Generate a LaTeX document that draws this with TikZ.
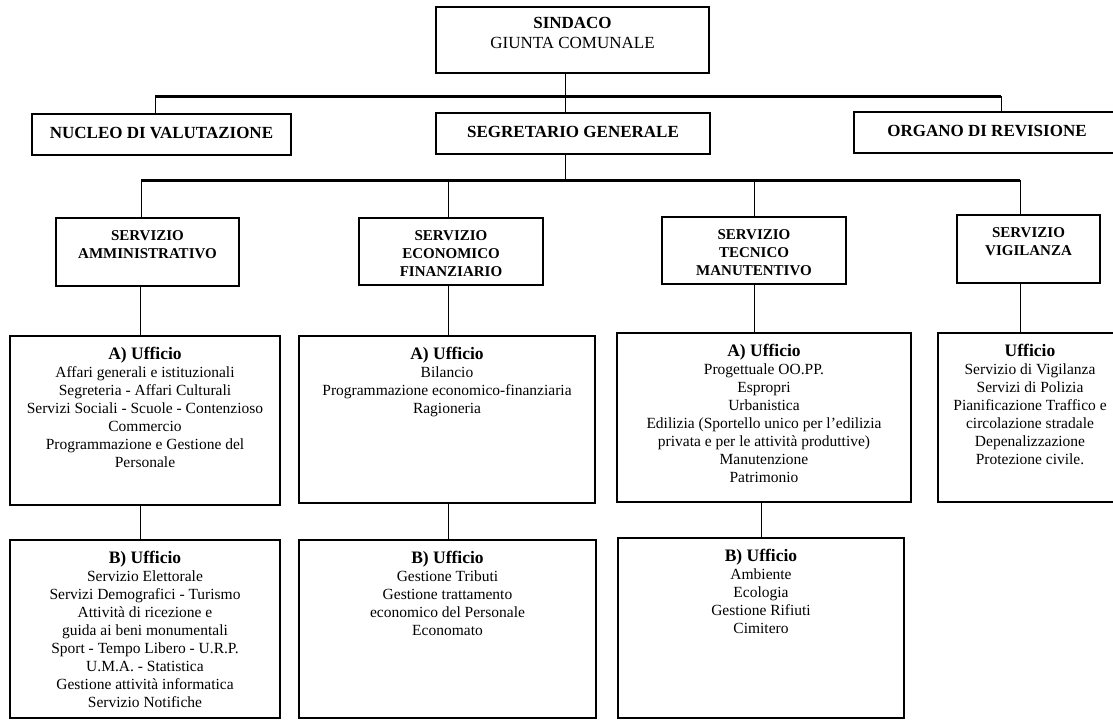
\documentclass[tikz,border=0pt]{standalone}
\usepackage{fontspec}
\setmainfont{Liberation Serif}
\begin{document}
\begin{tikzpicture}[x=1pt,y=-1pt,
  box/.style={draw=black, line width=2pt, inner sep=0pt, outer sep=0pt, fill=none},
  bus/.style={line width=3pt},
  conn/.style={line width=1pt},
  toptxt/.style={inner sep=0pt, align=center, font=\fontsize{17}{20}\selectfont\bfseries},
  srvtxt/.style={anchor=north, inner sep=0pt, align=center, font=\fontsize{15}{18}\selectfont\bfseries},
  uftxt/.style={anchor=north, inner sep=0pt, align=center, font=\fontsize{15.5}{18}\selectfont},
  uftitle/.style={font=\fontsize{17.5}{18}\selectfont\bfseries}
]
\useasboundingbox[fill=white] (0,0) rectangle (1113,720);

% top level boxes
\node[box, minimum width=273pt, minimum height=66pt] (sind) at (572.5,40) {};
\node[toptxt, anchor=north] (sindt) at ([yshift=-10pt]sind.north) {SINDACO\\{\mdseries GIUNTA COMUNALE}};

\node[box, minimum width=259pt, minimum height=41pt] (nuc) at (161.5,134.5) {};
\node[toptxt] (nuct) at ([yshift=1.5pt]nuc.center) {NUCLEO DI VALUTAZIONE};

\node[box, minimum width=274pt, minimum height=41pt] (seg) at (573,133.5) {};
\node[toptxt] (segt) at ([yshift=1.5pt]seg.center) {SEGRETARIO GENERALE};

\node[box, minimum width=266pt, minimum height=41pt] (org) at (987,132.5) {};
\node[toptxt] (orgt) at ([yshift=1.5pt]org.center) {ORGANO DI REVISIONE};

% services
\node[box, minimum width=183pt, minimum height=68pt] (amm) at (147.5,252) {};
\node[srvtxt] (ammt) at ([yshift=-12pt]amm.north) {SERVIZIO\\AMMINISTRATIVO};

\node[box, minimum width=184pt, minimum height=67pt] (eco) at (451,251.5) {};
\node[srvtxt] (ecot) at ([yshift=-12pt]eco.north) {SERVIZIO\\ECONOMICO\\FINANZIARIO};

\node[box, minimum width=184pt, minimum height=67pt] (tec) at (754,250.5) {};
\node[srvtxt] (tect) at ([yshift=-12pt]tec.north) {SERVIZIO\\TECNICO\\MANUTENTIVO};

\node[box, minimum width=143pt, minimum height=68pt] (vig) at (1028.5,249) {};
\node[srvtxt] (vigt) at ([yshift=-12pt]vig.north) {SERVIZIO\\VIGILANZA};

% A offices
\node[box, minimum width=270pt, minimum height=169pt] (aa) at (145,420.5) {};
\node[uftxt] (aat) at ([yshift=-11pt]aa.north) {{\fontsize{17.5}{18}\selectfont\bfseries A) Ufficio}\\Affari generali e istituzionali\\Segreteria - Affari Culturali\\Servizi Sociali - Scuole - Contenzioso\\Commercio\\Programmazione e Gestione del\\Personale};

\node[box, minimum width=296pt, minimum height=167pt] (ea) at (447,419.5) {};
\node[uftxt] (eat) at ([yshift=-11pt]ea.north) {{\fontsize{17.5}{18}\selectfont\bfseries A) Ufficio}\\Bilancio\\Programmazione economico-finanziaria\\Ragioneria};

\node[box, minimum width=294pt, minimum height=169pt] (ta) at (764,417.5) {};
\node[uftxt] (tat) at ([yshift=-11pt]ta.north) {{\fontsize{17.5}{18}\selectfont\bfseries A) Ufficio}\\Progettuale OO.PP.\\Espropri\\Urbanistica\\Edilizia (Sportello unico per l’edilizia\\privata e per le attività produttive)\\Manutenzione\\Patrimonio};

\node[box, minimum width=184pt, minimum height=169pt] (va) at (1030,417.5) {};
\node[uftxt] (vat) at ([yshift=-11pt]va.north) {{\fontsize{17.5}{18}\selectfont\bfseries Ufficio}\\Servizio di Vigilanza\\Servizi di Polizia\\Pianificazione Traffico e\\circolazione stradale\\Depenalizzazione\\Protezione civile.};

% B offices
\node[box, minimum width=270pt, minimum height=178pt] (ab) at (145,629) {};
\node[uftxt] (abt) at ([yshift=-11pt]ab.north) {{\fontsize{17.5}{18}\selectfont\bfseries B) Ufficio}\\Servizio Elettorale\\Servizi Demografici - Turismo\\Attività di ricezione e\\guida ai beni monumentali\\Sport - Tempo Libero - U.R.P.\\U.M.A. - Statistica\\Gestione attività informatica\\Servizio Notifiche};

\node[box, minimum width=297pt, minimum height=178pt] (eb) at (447.5,629) {};
\node[uftxt] (ebt) at ([yshift=-11pt]eb.north) {{\fontsize{17.5}{18}\selectfont\bfseries B) Ufficio}\\Gestione Tributi\\Gestione trattamento\\economico del Personale\\Economato};

\node[box, minimum width=286pt, minimum height=180pt] (tb) at (761,628) {};
\node[uftxt] (tbt) at ([yshift=-11pt]tb.north) {{\fontsize{17.5}{18}\selectfont\bfseries B) Ufficio}\\Ambiente\\Ecologia\\Gestione Rifiuti\\Cimitero};

% bus coordinates
\coordinate (b1l) at (155,96);
\coordinate (b1m) at (565,96);
\coordinate (b1r) at (1001,96);
\coordinate (b2l) at (141,180);
\coordinate (b2m) at (565,180);
\coordinate (b2r) at (1020,180);
\coordinate (xe) at (448,0);
\coordinate (xt) at (754,0);
\coordinate (xa) at (140,0);
\coordinate (xtb) at (761,0);

% connectors
\draw[conn] (sind.south -| b1m) -- (seg.north -| b1m);
\draw[conn] (b1l) -- (nuc.north -| b1l);
\draw[conn] (b1r) -- (org.north -| b1r);
\draw[bus] (b1l) -- (b1r);

\draw[conn] (seg.south -| b2m) -- (b2m);
\draw[conn] (b2l) -- (amm.north -| b2l);
\draw[conn] (b2l -| xe) -- (eco.north -| xe);
\draw[conn] (b2l -| xt) -- (tec.north -| xt);
\draw[conn] (b2r) -- (vig.north -| b2r);
\draw[bus] (b2l) -- (b2r);

\draw[conn] (amm.south -| xa) -- (aa.north -| xa);
\draw[conn] (eco.south -| xe) -- (ea.north -| xe);
\draw[conn] (tec.south -| xt) -- (ta.north -| xt);
\draw[conn] (vig.south -| b2r) -- (va.north -| b2r);

\draw[conn] (aa.south -| xa) -- (ab.north -| xa);
\draw[conn] (ea.south -| xe) -- (eb.north -| xe);
\draw[conn] (ta.south -| xtb) -- (tb.north -| xtb);
\end{tikzpicture}
\end{document}
